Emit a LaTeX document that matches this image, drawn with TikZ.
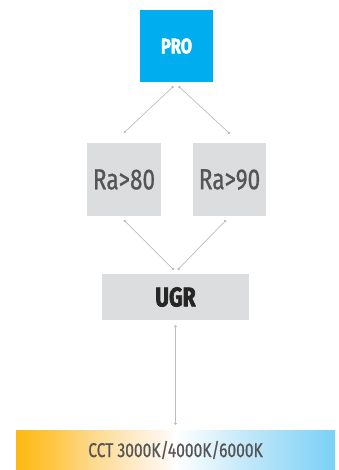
\documentclass[tikz,border=0pt]{standalone}
\usepackage{fontspec}
\usetikzlibrary{arrows.meta}
\newfontfamily\condf[FakeStretch=0.78, UprightFeatures={FakeBold=0.8}, BoldFeatures={FakeBold=2.2}]{Fira Sans}
\definecolor{problue}{HTML}{00AEEF}
\definecolor{boxgray}{HTML}{DCDDDE}
\definecolor{linegray}{HTML}{BDBDBD}
\definecolor{txtgray}{HTML}{555555}
\definecolor{ca}{HTML}{FDB913}
\definecolor{cb}{HTML}{FEC53F}
\definecolor{cc}{HTML}{FDD888}
\definecolor{cd}{HTML}{FEE9C4}
\definecolor{ce}{HTML}{FFF8F0}
\definecolor{cf}{HTML}{EAF7FD}
\definecolor{cg}{HTML}{BFE7F9}
\definecolor{ch}{HTML}{7BD0F5}
\pgfdeclarehorizontalshading{cctshade}{100bp}{color(0bp)=(ca); color(25bp)=(ca); color(30.35bp)=(cb); color(36.5bp)=(cc); color(43bp)=(cd); color(48.5bp)=(ce); color(50bp)=(white); color(54bp)=(cf); color(61.5bp)=(cg); color(75bp)=(ch); color(100bp)=(ch)}
\tikzset{
  box/.style={rectangle, inner sep=0pt, fill=boxgray, draw=none},
  conn/.style={draw=linegray, line width=0.7pt, {Circle[length=2.6pt,fill=linegray]}-{Circle[length=2.6pt,fill=linegray]}},
}
\begin{document}
\begin{tikzpicture}[x=1pt,y=-1pt]
\useasboundingbox (0,0) rectangle (339,470);
\node[box, fill=problue, minimum width=73pt, minimum height=72pt, text=white, font=\condf\bfseries\fontsize{21}{21}\selectfont] (pro) at (176.5,46) {PRO};
\node[box, minimum width=74pt, minimum height=73pt, text=txtgray, font=\condf\fontsize{29}{29}\selectfont] (ra80) at (124,179.5) {Ra>80};
\node[box, minimum width=73pt, minimum height=73pt, text=txtgray, font=\condf\fontsize{29}{29}\selectfont] (ra90) at (229.5,179.5) {Ra>90};
\node[box, minimum width=147pt, minimum height=46pt, text=black!85, font=\condf\bfseries\fontsize{27}{27}\selectfont] (ugr) at (175.5,297) {UGR};
\node[box, fill=none, shading=cctshade, minimum width=319pt, minimum height=40pt, text=txtgray, font=\condf\fontsize{20}{20}\selectfont] (cct) at (175.5,450) {CCT 3000K/4000K/6000K};
\draw[conn] ([xshift=-3pt,yshift=-4pt]pro.south) -- ([yshift=10pt]ra80.north);
\draw[conn] ([xshift=2pt,yshift=-4pt]pro.south) -- ([xshift=0.5pt,yshift=9pt]ra90.north);
\draw[conn] ([yshift=-4pt]ra80.south) -- ([xshift=-1.8pt,yshift=4pt]ugr.north);
\draw[conn] ([xshift=-3.5pt,yshift=-4pt]ra90.south) -- ([xshift=2.2pt,yshift=4pt]ugr.north);
\draw[conn] ([yshift=-5pt]ugr.south) -- ([yshift=5pt]cct.north);
\end{tikzpicture}
\end{document}
